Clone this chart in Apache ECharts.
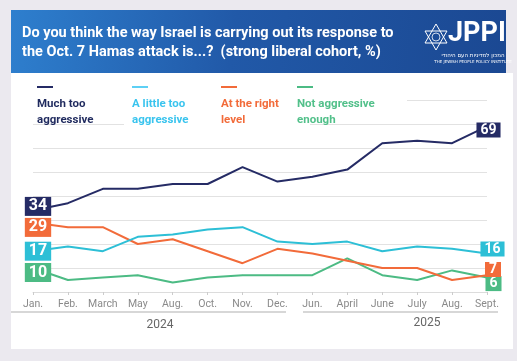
<!DOCTYPE html>
<html><head><meta charset="utf-8">
<script src="https://cdn.jsdelivr.net/npm/echarts@6/dist/echarts.min.js"></script>
<style>html,body{margin:0;padding:0;background:#ebe9ef;}#c{width:517px;height:361px;}</style>
</head><body><div id="c"></div>
<script>
const categories = ['Jan.','Feb.','March','May','Aug.','Oct.','Nov.','Dec.','Jun.','April','June','July','Aug.','Sept.'];
const years = ['2024','2025'];
const seriesNames = ['Much too\naggressive','A little too\naggressive','At the right\nlevel','Not aggressive\nenough'];
const muchTooAggressive = [34,37,43,43,45,45,52,46,48,51,62,63,62,69];
const littleTooAggressive = [17,19,17,23,24,26,27,21,20,21,17,19,18,16];
const atTheRightLevel = [29,27,27,20,22,17,12,18,16,13,10,10,5,7];
const notAggressiveEnough = [10,5,6,7,4,6,7,7,7,14,7,5,9,6];
const yTicks = [0,10,20,30,40,50,60,70,80];

const colors = ['#252b65','#2dbfd6','#f26b3a','#4cbb84'];
const legendColors = ['#1f2a5e','#3ac4ee','#f26b3a','#52c08a'];
const startOffsets = [[5,-4],[5,0],[5,5],[5,4.5]];
const endOffsets = [[1.5,3.6],[5.5,-4.6],[6,-5.7],[6.5,6]];
const allData = [muchTooAggressive, littleTooAggressive, atTheRightLevel, notAggressiveEnough];

function buildData(arr, idx){
  return arr.map((v,i)=>{
    if(i===0){
      return {value:v,label:{show:true,position:'inside',
        color:'#fff',fontFamily:'Roboto',fontWeight:700,fontSize:16,lineHeight:18,padding:[1,4,0,4],backgroundColor:colors[idx]}};
    }
    if(i===arr.length-1){
      return {value:v,label:{show:true,position:'inside',
        color:'#fff',fontFamily:'Roboto',fontWeight:700,fontSize:14,lineHeight:15,padding:[0,4,0,4],backgroundColor:colors[idx]}};
    }
    return v;
  });
}

const series = allData.map((arr,idx)=>({
  name: seriesNames[idx], type:'line', data: buildData(arr,idx),
  symbol:'circle', symbolSize:1, showSymbol:true, showAllSymbol:true,
  lineStyle:{color:colors[idx],width:2}, itemStyle:{color:colors[idx]},
  label:{show:false, formatter:'{c}'}, z: 7 - idx*0.1,
  labelLayout:function(p){
    const o = p.dataIndex===0 ? startOffsets[idx] : endOffsets[idx];
    return {dx:o[0], dy:o[1], hideOverlap:false, moveOverlap:null};
  }
}));

const legendX = [37,132,221,297];
const graphic = [
  {type:'rect',shape:{x:11,y:73,width:502,height:276},style:{fill:'#ffffff'},z:-10,silent:true},
  {type:'rect',shape:{x:11,y:10,width:495,height:63},style:{fill:new echarts.graphic.LinearGradient(0,0,1,1,[{offset:0,color:'#2e7fce'},{offset:0.45,color:'#2159a8'},{offset:1,color:'#1b4892'}])},z:-9,silent:true},
  {type:'text',left:22,top:26,style:{text:'Do you think the way Israel is carrying out its response to',fill:'#fff',font:'700 14.5px Roboto'},z:10},
  {type:'text',left:22,top:45,style:{text:'the Oct. 7 Hamas attack is...?  (strong liberal cohort, %)',fill:'#fff',font:'700 14.5px Roboto'},z:10},
  // logo
  {type:'polygon',shape:{points:[[436,24],[447,43],[425,43]]},style:{fill:'none',stroke:'#fff',lineWidth:1},z:10},
  {type:'polygon',shape:{points:[[436,50],[425,31],[447,31]]},style:{fill:'none',stroke:'#fff',lineWidth:1},z:10},
  {type:'circle',shape:{cx:436,cy:37,r:4},style:{fill:'none',stroke:'#fff',lineWidth:0.8},z:10},
  {type:'text',x:448,y:21,style:{text:'JPPI',fill:'#fff',font:'700 27px Roboto'},z:10},
  {type:'text',x:473,y:53,style:{text:'המכון למדיניות העם היהודי',fill:'#fff',font:'5.5px "DejaVu Sans"',align:'center'},z:10},
  {type:'text',x:473,y:60,style:{text:'THE JEWISH PEOPLE POLICY INSTITUTE',fill:'#fff',font:'4px "DejaVu Sans"',align:'center'},z:10},
  // legend white covers
  {type:'rect',shape:{x:33,y:76,width:91,height:46},style:{fill:'#fff'},z:1,silent:true},
  {type:'rect',shape:{x:124,y:76,width:186,height:52},style:{fill:'#fff'},z:1,silent:true},
  {type:'rect',shape:{x:310,y:76,width:97,height:46},style:{fill:'#fff'},z:1,silent:true},
  // year separators
  {type:'line',shape:{x1:11,y1:312,x2:286,y2:312},style:{stroke:'#b0b0b0',lineWidth:1.2},z:10},
  {type:'line',shape:{x1:303,y1:312,x2:498,y2:312},style:{stroke:'#b0b0b0',lineWidth:1.2},z:10},
  {type:'text',x:160,y:325,style:{text:years[0],fill:'#666',font:'12px Roboto',align:'center',verticalAlign:'middle'},z:10},
  {type:'text',x:427,y:323,style:{text:years[1],fill:'#666',font:'12px Roboto',align:'center',verticalAlign:'middle'},z:10}
];
seriesNames.forEach((n,i)=>{
  graphic.push({type:'line',shape:{x1:legendX[i],y1:87,x2:legendX[i]+16,y2:87},style:{stroke:i===1?'#5dd0f5':colors[i],lineWidth:2},z:10});
  graphic.push({type:'text',x:legendX[i],y:96,style:{text:n,fill:legendColors[i],font:'700 11.5px Roboto',lineHeight:16},z:10});
});

const chart = echarts.init(document.getElementById('c'));
chart.setOption({
  backgroundColor:'#ebe9ef',
  animation:false,
  grid:{left:33,right:30,top:100,bottom:69},
  xAxis:{type:'category',data:categories,boundaryGap:false,
    axisLine:{show:true,lineStyle:{color:'#dcdcdc',width:1}},
    axisTick:{show:true,length:3,lineStyle:{color:'#cccccc'},interval:0},
    axisLabel:{color:'#8a8a8a',fontSize:10.5,fontFamily:'Roboto',margin:7,interval:0}},
  yAxis:{type:'value',min:yTicks[0],max:yTicks[yTicks.length-1],interval:10,
    axisLine:{show:false},axisTick:{show:false},axisLabel:{show:false},
    splitLine:{lineStyle:{color:'#e2e2e2',width:1}}},
  series:series,
  graphic:graphic
});
</script></body></html>
